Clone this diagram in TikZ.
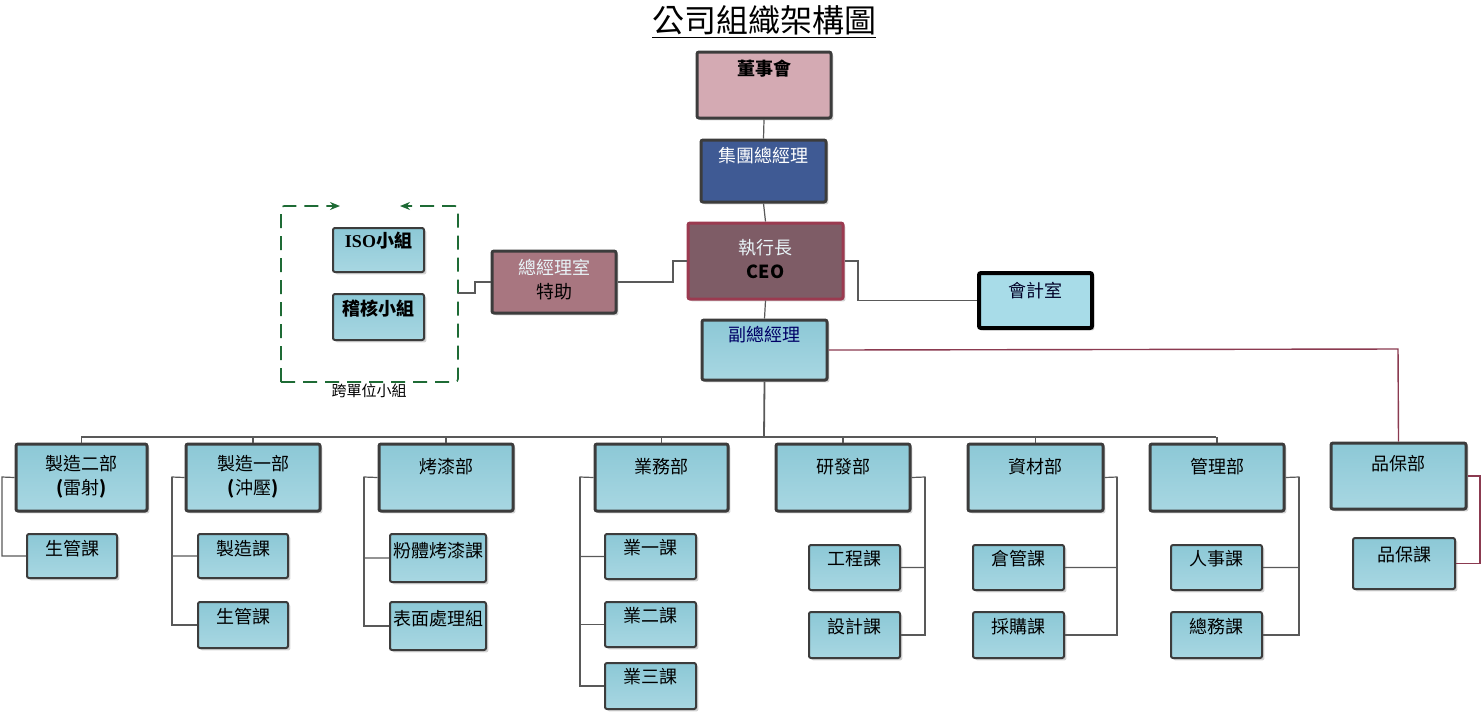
\documentclass[tikz,border=0pt]{standalone}
\usepackage{fontspec}
\setmainfont{Noto Sans CJK TC}
\newfontfamily\serifL{Liberation Serif}
\usetikzlibrary{shadows,arrows.meta}
\definecolor{bxA}{HTML}{8CC8D6}
\definecolor{bxB}{HTML}{A8D7E2}
\definecolor{bord}{HTML}{3C3C3C}
\definecolor{grn}{HTML}{1E6B35}
\definecolor{redl}{HTML}{8B3A50}
\definecolor{cBod}{HTML}{D4AAB3}
\definecolor{cGm}{HTML}{3F5A94}
\definecolor{cCeoD}{HTML}{9B3A50}
\definecolor{cCeo}{HTML}{7E5C66}
\definecolor{cAst}{HTML}{A87680}
\definecolor{cAcc}{HTML}{A8DCE8}
\definecolor{wtxt}{HTML}{E8F4F8}
\newcommand\bx[8]{\node[#6, minimum width={(#4-#2)*0.5pt}, minimum height={(#5-#3)*0.5pt},
  label={[anchor=center,yshift={-#7*0.5pt},align=center,font=\fontsize{9}{12}\selectfont]north:#8}] (#1) at ({(#2+#4)/2},{(#3+#5)/2}) {};}
\tikzset{
  base/.style={draw=bord, line width=1.5pt, rounded corners=1pt, inner sep=0pt,
    drop shadow={shadow xshift=1.2pt, shadow yshift=-1.2pt, opacity=0.35}},
  dept/.style={base, top color=bxA, bottom color=bxB},
  sub/.style={base, line width=1pt, top color=bxA, bottom color=bxB},
  conn/.style={draw=bord!85, line width=0.6pt},
  gline/.style={draw=grn, line width=0.8pt, dash pattern=on 7pt off 4pt, rounded corners=1.5pt},
}
\begin{document}
\begin{tikzpicture}[x=0.5pt,y=-0.5pt]
\useasboundingbox (0,0) rectangle (1482,714);
\node[font=\fontsize{16}{18}\selectfont] (title) at (764,22) {\underline{公司組織架構圖}};
% top chain
\bx{bod}{697}{52}{831}{118}{base, fill=cBod}{18}{\textbf{董事會}}
\bx{gm}{701}{140}{826}{202}{base, fill=cGm}{17}{\textcolor{white}{集團總經理}}
\bx{ceo}{688}{223}{843}{299}{base, draw=cCeoD, fill=cCeo}{38}{\color{wtxt}執行長\\\textbf{CEO}}
\bx{ast}{492}{251}{616}{313}{base, fill=cAst}{30}{\color{wtxt}總經理室\\特助}
\bx{acc}{979}{273}{1092}{328}{base, draw=black, line width=2pt, fill=cAcc}{20}{\textcolor{black!85!blue}{會計室}}
\bx{vp}{702}{320}{827}{380}{dept}{16}{\textcolor{blue!40!black}{副總經理}}
% group
\bx{iso}{333}{228}{424}{272}{sub}{14}{\textbf{{\serifL ISO}小組}}
\bx{aud}{333}{294}{424}{340}{sub}{16}{\textbf{稽核小組}}
\draw[gline,-{Stealth[length=5pt,width=4pt]}] (281,382) -- (281,206) -- (340,206);
\draw[gline,-{Stealth[length=5pt,width=4pt]}] (281,382) -- (458,382) -- (458,206) -- (400,206);
\coordinate (grpE) at (458,293);
\node[font=\fontsize{7.5}{9}\selectfont] (grpL) at (369,391) {跨單位小組};
% top connectors
\draw[conn] (bod.south) -- (gm.north);
\draw[conn] (gm.south) -- (ceo.north);
\draw[conn] (ceo.south) -- (vp.north);
\draw[conn] (grpE) -- (475,293) |- (ast.west);
\draw[conn] (ast.east) -- (673,282) |- (ceo.west);
\draw[conn] (ceo.east) -- (858,261) |- (acc.west);
% departments
\bx{d2}{16}{444}{147}{511}{dept}{34}{製造二部\\\textbf{(}雷射\textbf{)}}
\bx{d1}{186}{444}{320}{511}{dept}{34}{製造一部\\\textbf{(}沖壓\textbf{)}}
\bx{pt}{379}{444}{513}{511}{dept}{24}{烤漆部}
\bx{sl}{595}{444}{728}{511}{dept}{24}{業務部}
\bx{rd}{776}{444}{910}{511}{dept}{24}{研發部}
\bx{mt}{968}{444}{1103}{511}{dept}{24}{資材部}
\bx{mg}{1150}{444}{1284}{511}{dept}{24}{管理部}
\bx{qa}{1331}{443}{1466}{509}{dept}{22}{品保部}
\coordinate (bus) at (764,437);
\draw[conn, line width=0.9pt] (vp.south) -- (bus);
\draw[conn, line width=0.9pt] (81,437) -- (1216,437);
\foreach \d in {d2,d1,pt,sl,rd,mt,mg} \draw[conn] (\d.north) -- (\d.north |- bus);
\draw[draw=redl, line width=0.7pt] (vp.east) -- (1398,349) -- (qa.north);
% sub units
\bx{s21}{27}{534}{117}{578}{sub}{16}{生管課}
\bx{s11}{198}{534}{288}{578}{sub}{16}{製造課}
\bx{s12}{198}{602}{288}{648}{sub}{16}{生管課}
\bx{p1}{390}{534}{486}{582}{sub}{18}{粉體烤漆課}
\bx{p2}{390}{602}{486}{650}{sub}{18}{表面處理組}
\bx{y1}{605}{534}{696}{579}{sub}{15}{業一課}
\bx{y2}{605}{602}{696}{647}{sub}{15}{業二課}
\bx{y3}{605}{663}{696}{709}{sub}{15}{業三課}
\bx{r1}{809}{545}{900}{590}{sub}{15}{工程課}
\bx{r2}{809}{612}{900}{658}{sub}{16}{設計課}
\bx{m1}{973}{545}{1064}{590}{sub}{15}{倉管課}
\bx{m2}{973}{612}{1064}{658}{sub}{16}{採購課}
\bx{g1}{1171}{545}{1262}{590}{sub}{15}{人事課}
\bx{g2}{1171}{612}{1262}{658}{sub}{16}{總務課}
\bx{q1}{1353}{538}{1455}{589}{sub}{18}{品保課}
% sub connectors
\draw[conn] (d2.west) -- (2,477) |- (s21.west);
\draw[conn] (d1.west) -- (172,477) |- (s11.west);  \draw[conn] (172,477) |- (s12.west);
\draw[conn] (pt.west) -- (364,477) |- (p1.west);  \draw[conn] (364,477) |- (p2.west);
\draw[conn] (sl.west) -- (580,477) |- (y1.west);  \draw[conn] (580,477) |- (y2.west); \draw[conn] (580,477) |- (y3.west);
\draw[conn] (rd.east) -- (925,477) |- (r1.east);  \draw[conn] (925,477) |- (r2.east);
\draw[conn] (mt.east) -- (1117,477) |- (m1.east); \draw[conn] (1117,477) |- (m2.east);
\draw[conn] (mg.east) -- (1299,477) |- (g1.east); \draw[conn] (1299,477) |- (g2.east);
\draw[draw=redl, line width=0.7pt] (qa.east) -- (1480,476) |- (q1.east);
\end{tikzpicture}
\end{document}
